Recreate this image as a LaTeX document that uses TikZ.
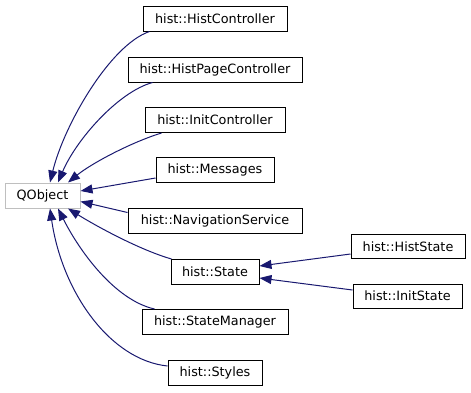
\documentclass[tikz,border=0pt]{standalone}
\usepackage{fontspec}
\setmainfont{DejaVu Sans}
\usetikzlibrary{arrows.meta}
\definecolor{edgeblue}{HTML}{191970}
\definecolor{extgray}{HTML}{BFBFBF}
\begin{document}
\begin{tikzpicture}[x=1pt,y=-1pt,
  cls/.style={draw=black,line width=1pt,fill=white,inner sep=0pt,
    minimum height=25pt,font=\fontsize{12.8}{14}\selectfont},
  extcls/.style={cls,draw=extgray},
  inherit/.style={draw=edgeblue,line width=1pt,
    -{Triangle[length=12pt,width=9pt,fill=edgeblue]}}
]
\useasboundingbox (0,0) rectangle (471,392);

% base class and direct subclasses
\node[extcls,minimum width=75pt]  (qobj) at (42.5,195.5) {QObject};
\node[cls,minimum width=144pt] (hc)  at (215,18.5)  {hist::HistController};
\node[cls,minimum width=174pt] (hpc) at (215,69.5)  {hist::HistPageController};
\node[cls,minimum width=140pt] (ic)  at (215,120)   {hist::InitController};
\node[cls,minimum width=118pt] (msg) at (215,170)   {hist::Messages};
\node[cls,minimum width=174pt] (nav) at (215,220.5) {hist::NavigationService};
\node[cls,minimum width=88pt]  (st)  at (215,272)   {hist::State};
\node[cls,minimum width=146pt] (sm)  at (215,322)   {hist::StateManager};
\node[cls,minimum width=94pt]  (sty) at (215,373)   {hist::Styles};

% subclasses of hist::State
\node[cls,minimum width=114pt,minimum height=24pt] (hs) at (408,246.5) {hist::HistState};
\node[cls,minimum width=109pt,minimum height=24pt] (is) at (407.5,296) {hist::InitState};

% inheritance edges towards QObject
\draw[inherit] ([xshift=7pt]hc.south west) .. controls (110,45) and (64,125) .. ([xshift=7.5pt]qobj.north);
\draw[inherit] ([xshift=25pt]hpc.south west) .. controls (118,92) and (76,140) .. ([xshift=15.5pt]qobj.north);
\draw[inherit] ([xshift=17pt]ic.south west) .. controls (132,142) and (92,163) .. ([xshift=25.5pt]qobj.north);
\draw[inherit] ([yshift=-8pt]msg.west) -- ([yshift=4.5pt]qobj.east);
\draw[inherit] ([yshift=8pt]nav.west) -- ([yshift=-6pt]qobj.east);
\draw[inherit] ([xshift=1pt]st.north west) .. controls (140,250) and (96,226) .. ([xshift=25.5pt]qobj.south);
\draw[inherit] ([xshift=13pt]sm.north west) .. controls (115,300) and (80,252) .. ([xshift=15.5pt]qobj.south);
\draw[inherit] ([yshift=7pt]sty.west) .. controls (110,360) and (62,292) .. ([xshift=7.5pt]qobj.south);

% inheritance edges towards hist::State
\draw[inherit] ([yshift=-7.5pt]hs.west) -- ([yshift=6pt]st.east);
\draw[inherit] ([yshift=6pt]is.west) -- ([yshift=-6pt]st.east);
\end{tikzpicture}
\end{document}
